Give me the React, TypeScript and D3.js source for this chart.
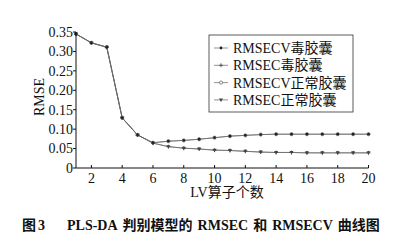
import React from "react";
import * as d3 from "d3";

const lv = [1, 2, 3, 4, 5, 6, 7, 8, 9, 10, 11, 12, 13, 14, 15, 16, 17, 18, 19, 20];
const rmsecvToxic = [0.345, 0.322, 0.311, 0.129, 0.085, 0.065, 0.069, 0.071, 0.074, 0.078, 0.082, 0.084, 0.086, 0.087, 0.087, 0.087, 0.087, 0.087, 0.087, 0.087];
const rmsecToxic = [0.345, 0.322, 0.311, 0.129, 0.085, 0.064, 0.055, 0.051, 0.049, 0.046, 0.045, 0.043, 0.041, 0.040, 0.040, 0.039, 0.039, 0.039, 0.039, 0.039];
const rmsecvNormal = rmsecvToxic.slice();
const rmsecNormal = rmsecToxic.slice();
const yTicks = [0, 0.05, 0.1, 0.15, 0.2, 0.25, 0.3, 0.35];
const yTickLabels = ["0", "0.05", "0.10", "0.15", "0.20", "0.25", "0.30", "0.35"];
const xTicks = [2, 4, 6, 8, 10, 12, 14, 16, 18, 20];
const legendLabels = ["RMSECV毒胶囊", "RMSEC毒胶囊", "RMSECV正常胶囊", "RMSEC正常胶囊"];
const captionParts = ["图", "3", "PLS-DA", "判别模型的", "RMSEC", "和", "RMSECV", "曲线图"];

const FONT = "'Liberation Serif', 'Times New Roman', 'Noto Sans CJK SC', serif";
const CJK = "'Noto Sans CJK SC', sans-serif";

function Marker({ kind, x, y }: { kind: string; x: number; y: number }) {
  if (kind === "dot") return <circle cx={x} cy={y} r={1.4} fill="#222" />;
  if (kind === "plus")
    return (
      <path d={`M${x - 2},${y}H${x + 2}M${x},${y - 2}V${y + 2}`} stroke="#444" strokeWidth={0.8} />
    );
  if (kind === "circle") return <circle cx={x} cy={y} r={1.6} fill="white" stroke="#555" strokeWidth={0.7} />;
  return <path d={`M${x - 2},${y - 1.5}H${x + 2}L${x},${y + 2}Z`} fill="#444" />;
}

export default function App() {
  const x = d3.scaleLinear().domain([1, 20]).range([76, 368.5]);
  const y = d3.scaleLinear().domain([0, 0.35]).range([168, 32]);
  const line = d3
    .line<number>()
    .x((_, i) => x(lv[i]))
    .y((d) => y(d));
  const series = [
    { vals: rmsecNormal, kind: "tri" },
    { vals: rmsecvNormal, kind: "circle" },
    { vals: rmsecToxic, kind: "plus" },
    { vals: rmsecvToxic, kind: "dot" },
  ];
  const legendKinds = ["dot", "plus", "circle", "tri"];
  const capDx = [0, 2, 22, 5, 5, 5, 5, 5];
  const capCJK = [true, false, false, true, false, true, false, true];
  return (
    <svg
      width={406}
      height={247}
      style={{ position: "absolute", left: 0, top: 0, background: "white" }}
      fontFamily={FONT}
    >
      <rect width={406} height={247} fill="white" />
      {series.map((s, k) => (
        <path key={k} d={line(s.vals) || ""} fill="none" stroke="#666" strokeWidth={0.7} />
      ))}
      {series.map((s, k) =>
        s.vals.map((v, i) => <Marker key={`${k}-${i}`} kind={s.kind} x={x(lv[i])} y={y(v)} />)
      )}
      <line x1={x(1)} x2={x(20)} y1={y(0)} y2={y(0)} stroke="#111" strokeWidth={1} />
      <line x1={x(1)} x2={x(1)} y1={y(0)} y2={y(0.35)} stroke="#111" strokeWidth={1} />
      {yTicks.map((t, i) => (
        <g key={i}>
          <line x1={x(1) - 3} x2={x(1)} y1={y(t)} y2={y(t)} stroke="#111" />
          <text x={x(1) - 3} y={y(t)} dy="0.35em" textAnchor="end" fontSize={14} fill="#111">
            {yTickLabels[i]}
          </text>
        </g>
      ))}
      {xTicks.map((t) => (
        <g key={t}>
          <line x1={x(t)} x2={x(t)} y1={y(0)} y2={y(0) - 3} stroke="#111" />
          <text x={x(t)} y={y(0) + 15} textAnchor="middle" fontSize={14} fill="#111">
            {t}
          </text>
        </g>
      ))}
      <text x={227} y={197} textAnchor="middle" fontSize={14} fill="#111">
        LV算子个数
      </text>
      <text transform={`translate(44,97) rotate(-90)`} textAnchor="middle" fontSize={14} fill="#111">
        RMSE
      </text>
      <rect x={209} y={35} width={144} height={77} fill="white" stroke="#333" strokeWidth={0.8} />
      {legendLabels.map((l, i) => {
        const ly = 48 + i * 17.3;
        return (
          <g key={l}>
            <line x1={214} x2={228} y1={ly} y2={ly} stroke="#666" strokeWidth={0.7} />
            <Marker kind={legendKinds[i]} x={221} y={ly} />
            <text x={233} y={ly} dy="0.35em" fontSize={14} fill="#111">
              {l}
            </text>
          </g>
        );
      })}
      <text x={22} y={230} fontSize={14} fontWeight="bold" fill="#111">
        {captionParts.map((p, i) => (
          <tspan key={i} dx={capDx[i]} fontFamily={capCJK[i] ? CJK : FONT}>
            {p}
          </tspan>
        ))}
      </text>
    </svg>
  );
}
